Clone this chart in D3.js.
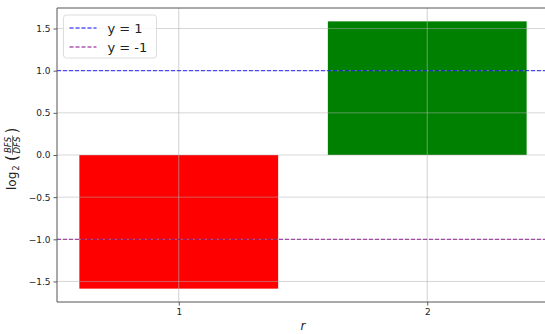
<!DOCTYPE html>
<html>
<head>
<meta charset="utf-8">
<script src="https://cdn.jsdelivr.net/npm/d3@7/dist/d3.min.js"></script>
<style>
  html, body { margin: 0; padding: 0; background: #fff; }
  svg { display: block; font-family: "DejaVu Sans", sans-serif; }
</style>
</head>
<body>
<svg id="chart" width="545" height="334"></svg>
<script>
// Bar categories (r) and log2(BFS/DFS) values
const categories = [1, 2];
const values = [-1.585, 1.585];
const barColors = ["#ff0000", "#008000"];

// Reference lines
const refLines = [
  { y: 1, label: "y = 1", color: "blue" },
  { y: -1, label: "y = -1", color: "purple" }
];

const yTicks = [-1.5, -1.0, -0.5, 0.0, 0.5, 1.0, 1.5];
const xTicks = [1, 2];

const svg = d3.select("#chart");
const margin = { left: 57, top: 8, right: -4, bottom: 32 };
const W = 545, H = 334;

const x = d3.scaleLinear().domain([0.51, 2.49]).range([margin.left, W - margin.right]);
const y = d3.scaleLinear().domain([-1.7435, 1.7435]).range([H - margin.bottom, margin.top]);

svg.append("defs").append("clipPath").attr("id", "plot")
  .append("rect")
  .attr("x", x(0.51)).attr("y", y(1.7435))
  .attr("width", x(2.49) - x(0.51)).attr("height", y(-1.7435) - y(1.7435));

const plot = svg.append("g").attr("clip-path", "url(#plot)");

// Bars
const barWidth = 0.8;
plot.selectAll("rect.bar").data(categories).join("rect")
  .attr("class", "bar")
  .attr("x", d => x(d - barWidth / 2))
  .attr("width", d => x(d + barWidth / 2) - x(d - barWidth / 2))
  .attr("y", (d, i) => y(Math.max(0, values[i])))
  .attr("height", (d, i) => Math.abs(y(values[i]) - y(0)))
  .attr("fill", (d, i) => barColors[i]);

// Grid (drawn over bars)
plot.selectAll("line.gy").data(yTicks).join("line")
  .attr("x1", x(0.51)).attr("x2", x(2.49))
  .attr("y1", d => y(d)).attr("y2", d => y(d))
  .attr("stroke", "#b0b0b0").attr("stroke-opacity", 0.5).attr("stroke-width", 1);
plot.selectAll("line.gx").data(xTicks).join("line")
  .attr("y1", y(1.7435)).attr("y2", y(-1.7435))
  .attr("x1", d => x(d)).attr("x2", d => x(d))
  .attr("stroke", "#b0b0b0").attr("stroke-opacity", 0.6).attr("stroke-width", 1);

// Reference lines
plot.selectAll("line.ref").data(refLines).join("line")
  .attr("x1", x(0.51)).attr("x2", x(2.49))
  .attr("y1", d => y(d.y)).attr("y2", d => y(d.y))
  .attr("stroke", d => d.color).attr("stroke-opacity", 0.65)
  .attr("stroke-width", 1.3).attr("stroke-dasharray", "4,2");

// Axes
const yAxis = d3.axisLeft(y).tickValues(yTicks).tickFormat(d3.format(".1f")).tickSize(3.5).tickPadding(3);
const xAxis = d3.axisBottom(x).tickValues(xTicks).tickFormat(d3.format("d")).tickSize(3.5).tickPadding(3);

const gy = svg.append("g").attr("transform", `translate(${x(0.51)},0)`).call(yAxis);
const gx = svg.append("g").attr("transform", `translate(0,${y(-1.7435)})`).call(xAxis);

[gx, gy].forEach(g => {
  g.select(".domain").remove();
  g.selectAll(".tick line").attr("stroke", "#333").attr("stroke-width", 0.8);
  g.selectAll(".tick text").attr("fill", "#222").attr("font-size", 9)
    .attr("font-family", "DejaVu Sans, sans-serif");
});
gy.selectAll(".tick text").text(d => d < 0 ? "\u2212" + Math.abs(d).toFixed(1) : d.toFixed(1));

// Spines
const spine = svg.append("g").attr("stroke", "#555").attr("stroke-width", 1).attr("fill", "none");
spine.append("line").attr("x1", x(0.51)).attr("x2", x(0.51)).attr("y1", y(1.7435)).attr("y2", y(-1.7435));
spine.append("line").attr("x1", x(0.51)).attr("x2", W).attr("y1", y(-1.7435)).attr("y2", y(-1.7435));
spine.append("line").attr("x1", x(0.51)).attr("x2", W).attr("y1", y(1.7435)).attr("y2", y(1.7435));

// Axis labels
svg.append("text").attr("x", x(1.5)).attr("y", 330)
  .attr("text-anchor", "middle").attr("font-size", 12).attr("font-style", "italic")
  .attr("fill", "#222").text("r");

// y label: log2(BFS / DFS), rotated; local x runs upward along the axis
const yl = svg.append("g").attr("transform", `translate(16,157) rotate(-90)`)
  .attr("fill", "#222");
yl.append("text").attr("x", -33).attr("y", 0).attr("font-size", 12).text("log");
yl.append("text").attr("x", -13.5).attr("y", 3).attr("font-size", 8).text("2");
yl.append("text").attr("x", -4).attr("y", 1).attr("font-size", 15).text("(");
yl.append("text").attr("x", 23.5).attr("y", 1).attr("font-size", 15).text(")");
yl.append("text").attr("x", 12).attr("y", -5.5).attr("font-size", 8.5).attr("font-style", "italic")
  .attr("text-anchor", "middle").text("BFS");
yl.append("text").attr("x", 12).attr("y", 3.5).attr("font-size", 8.5).attr("font-style", "italic")
  .attr("text-anchor", "middle").text("DFS");
yl.append("line").attr("x1", 2.5).attr("x2", 21.5).attr("y1", -3.5).attr("y2", -3.5)
  .attr("stroke", "#222").attr("stroke-width", 0.6);

// Legend
const lg = svg.append("g").attr("transform", "translate(63.5,15)");
lg.append("rect").attr("width", 93).attr("height", 43).attr("rx", 3)
  .attr("fill", "#fff").attr("fill-opacity", 0.8).attr("stroke", "#ddd").attr("stroke-width", 1);
const items = lg.selectAll("g.item").data(refLines).join("g")
  .attr("transform", (d, i) => `translate(0,${13 + i * 19})`);
items.append("line").attr("x1", 6).attr("x2", 33).attr("y1", 0).attr("y2", 0)
  .attr("stroke", d => d.color).attr("stroke-opacity", 0.65)
  .attr("stroke-width", 1.3).attr("stroke-dasharray", "4,2");
items.append("text").attr("x", 44).attr("y", 5).attr("font-size", 13).attr("fill", "#222")
  .text(d => d.label);
</script>
</body>
</html>
